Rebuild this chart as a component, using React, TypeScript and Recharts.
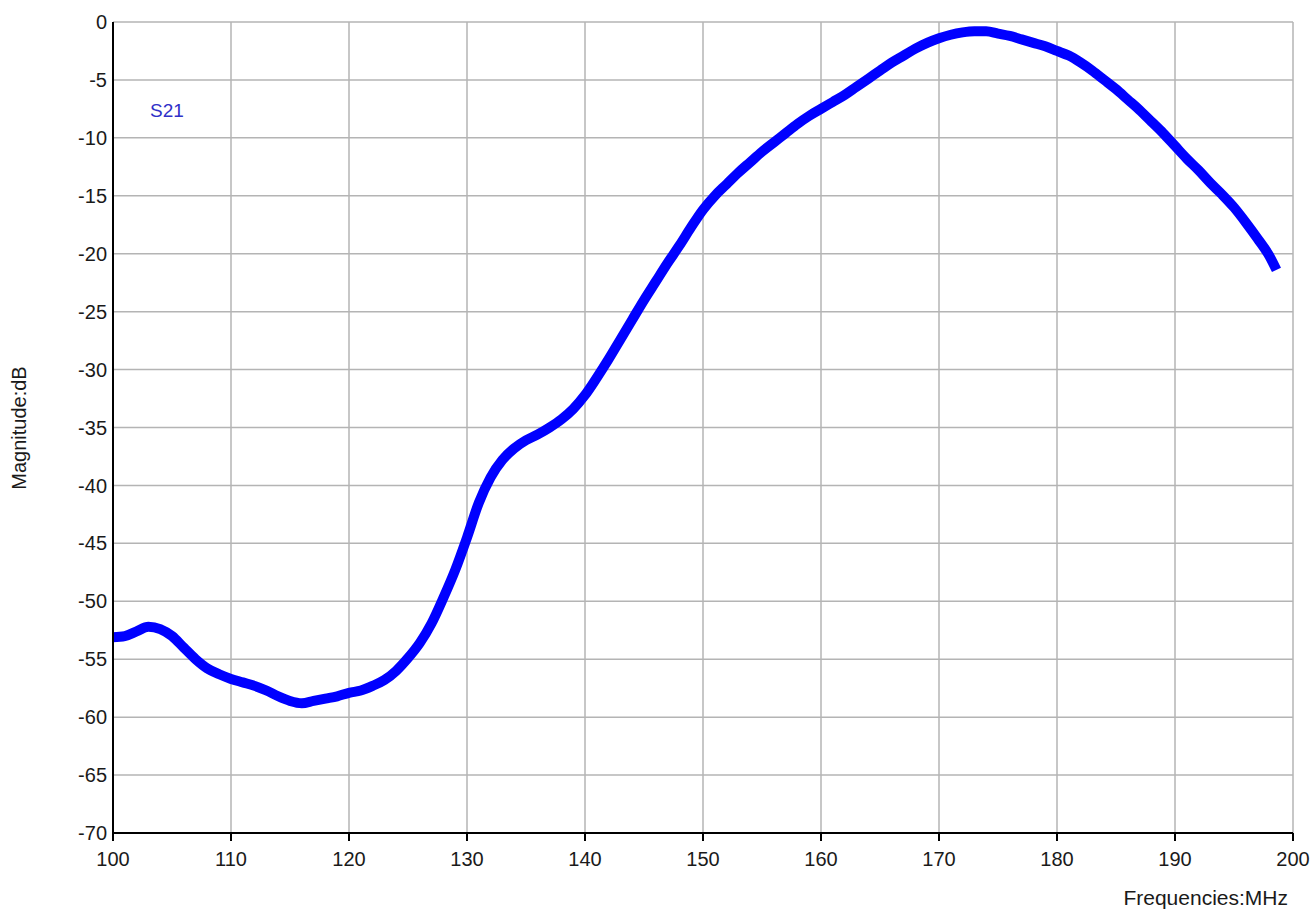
import React from 'react';
import {
  LineChart,
  Line,
  XAxis,
  YAxis,
  CartesianGrid,
} from 'recharts';

const freqs: number[] = [
  100, 101, 102, 103, 104, 105, 106, 107, 108, 109,
  110, 111, 112, 113, 114, 115, 116, 117, 118, 119,
  120, 121, 122, 123, 124, 125, 126, 127, 128, 129,
  130, 131, 132, 133, 134, 135, 136, 137, 138, 139,
  140, 141, 142, 143, 144, 145, 146, 147, 148, 149,
  150, 151, 152, 153, 154, 155, 156, 157, 158, 159,
  160, 161, 162, 163, 164, 165, 166, 167, 168, 169,
  170, 171, 172, 173, 174, 175, 176, 177, 178, 179,
  180, 181, 182, 183, 184, 185, 186, 187, 188, 189,
  190, 191, 192, 193, 194, 195, 196, 197, 198, 198.6,
];

const s21: number[] = [
  -53.1, -53.0, -52.6, -52.2, -52.4, -53.0, -54.0, -55.0, -55.8, -56.3,
  -56.7, -57.0, -57.3, -57.7, -58.2, -58.6, -58.8, -58.6, -58.4, -58.2,
  -57.9, -57.7, -57.3, -56.8, -56.0, -54.9, -53.6, -51.9, -49.7, -47.3,
  -44.5, -41.5, -39.3, -37.8, -36.8, -36.1, -35.6, -35.0, -34.3, -33.4,
  -32.2, -30.7, -29.1, -27.4, -25.7, -24.0, -22.4, -20.8, -19.3, -17.7,
  -16.2, -15.0, -14.0, -13.0, -12.1, -11.2, -10.4, -9.6, -8.8, -8.1,
  -7.5, -6.9, -6.3, -5.6, -4.9, -4.2, -3.5, -2.9, -2.3, -1.8,
  -1.4, -1.1, -0.9, -0.8, -0.8, -1.0, -1.2, -1.5, -1.8, -2.1,
  -2.5, -2.9, -3.5, -4.2, -5.0, -5.8, -6.7, -7.6, -8.6, -9.6,
  -10.7, -11.8, -12.8, -13.9, -14.9, -16.0, -17.3, -18.7, -20.2, -21.4,
];

const xTicks: number[] = [100, 110, 120, 130, 140, 150, 160, 170, 180, 190, 200];
const yTicks: number[] = [0, -5, -10, -15, -20, -25, -30, -35, -40, -45, -50, -55, -60, -65, -70];

const FONT = '"Liberation Sans", Arial, sans-serif';

const App: React.FC = () => {
  const data = freqs.map((f, i) => ({ f, s21: s21[i] }));

  return (
    <div
      style={{
        position: 'fixed',
        left: 0,
        top: 0,
        width: 1314,
        height: 912,
        background: '#fff',
        fontFamily: FONT,
      }}
    >
      <LineChart
        width={1314}
        height={912}
        data={data}
        margin={{ top: 22, right: 21, bottom: 0, left: 0 }}
      >
        <CartesianGrid stroke="#b4b4b4" strokeWidth={1.5} />
        <XAxis
          dataKey="f"
          type="number"
          domain={[100, 200]}
          ticks={xTicks}
          height={79}
          axisLine={{ stroke: '#000', strokeWidth: 2 }}
          tickLine={{ stroke: '#000', strokeWidth: 2 }}
          tickSize={8}
          tickMargin={11}
          tick={{ fill: '#1a1a1a', fontSize: 20, fontFamily: FONT }}
        />
        <YAxis
          type="number"
          domain={[-70, 0]}
          ticks={yTicks}
          width={113}
          axisLine={{ stroke: '#000', strokeWidth: 2 }}
          tickLine={false}
          tickSize={0}
          tickMargin={6}
          tick={{ fill: '#1a1a1a', fontSize: 20, fontFamily: FONT }}
        />
        <Line
          type="monotone"
          dataKey="s21"
          name="S21"
          stroke="#0000ff"
          strokeWidth={10}
          dot={false}
          activeDot={false}
          isAnimationActive={false}
        />
      </LineChart>

      {/* series label */}
      <div
        style={{
          position: 'absolute',
          left: 150,
          top: 100,
          fontSize: 19,
          color: '#3030c8',
        }}
      >
        S21
      </div>
      <div
        style={{
          position: 'absolute',
          left: 19,
          top: 428,
          transform: 'translate(-50%, -50%) rotate(-90deg)',
          fontSize: 20,
          color: '#1a1a1a',
          whiteSpace: 'nowrap',
        }}
      >
        Magnitude:dB
      </div>
      <div
        style={{
          position: 'absolute',
          right: 26,
          top: 886,
          fontSize: 21,
          color: '#1a1a1a',
          whiteSpace: 'nowrap',
        }}
      >
        Frequencies:MHz
      </div>
    </div>
  );
};

export default App;
